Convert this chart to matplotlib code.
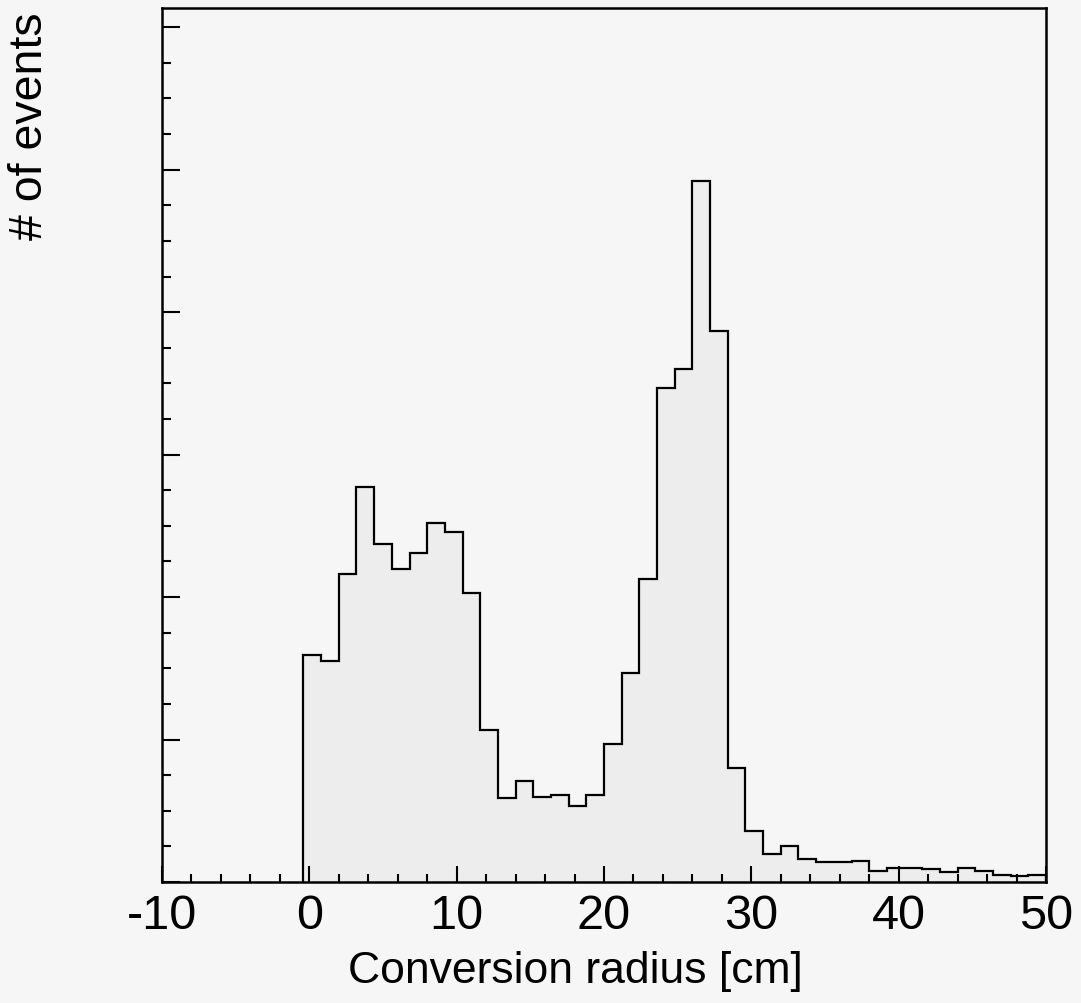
import numpy as np
import matplotlib
matplotlib.use("Agg")
import matplotlib.pyplot as plt
from matplotlib.ticker import MultipleLocator

# ヒストグラムのビン (幅 1.2 cm, -0.4 cm から)
bin_start = -0.4
bin_width = 1.2
counts = [159, 155, 216, 277, 237, 220, 231, 252, 246, 203,
          107, 59, 71, 60, 61, 53, 61, 97, 147, 213,
          347, 360, 492, 387, 80, 36, 20, 25, 16, 14,
          14, 15, 8, 10, 10, 9, 7, 10, 8, 5,
          4, 5]
edges = bin_start + bin_width * np.arange(len(counts) + 1)

x_major = [-10, 0, 10, 20, 30, 40, 50]
x_labels = ["-10", "0", "10", "20", "30", "40", "50"]

plt.rcParams['font.family'] = ['Liberation Sans', 'DejaVu Sans']

bg = '#f6f6f6'
fig = plt.figure(figsize=(10.81, 10.04), dpi=100, facecolor=bg)
ax = fig.add_axes([162 / 1081, 121 / 1004, (1046 - 162) / 1081, (883 - 9) / 1004])
ax.set_facecolor(bg)

ax.stairs(counts, edges, fill=True, color='#ededed', baseline=0)
ax.stairs(counts, edges, color='black', linewidth=1.6, baseline=0)

ax.set_xlim(-10, 50)
ax.set_ylim(0, 613.5)

ax.set_xticks(x_major)
ax.set_xticklabels(x_labels)
ax.xaxis.set_minor_locator(MultipleLocator(2))
ax.yaxis.set_major_locator(MultipleLocator(100))
ax.yaxis.set_minor_locator(MultipleLocator(25))
ax.set_yticklabels([])

ax.tick_params(axis='both', which='both', direction='in', top=False, right=False,
               width=1.5, colors='black')
ax.tick_params(axis='y', which='major', length=13)
ax.tick_params(axis='y', which='minor', length=6.5)
ax.tick_params(axis='x', which='major', length=11.5, pad=8, labelsize=35)
ax.tick_params(axis='x', which='minor', length=6)

for s in ax.spines.values():
    s.set_linewidth(1.8)

ax.set_xlabel("Conversion radius [cm]", fontsize=32)
ax.xaxis.set_label_coords(0.468, -0.078)
ax.xaxis.label.set_va('top')
fig.text(30 / 1081, 1 - 12 / 1004, "# of events", rotation=90, fontsize=33.5,
         ha='center', va='top')

fig.savefig("out.png", dpi=100, facecolor=bg)
